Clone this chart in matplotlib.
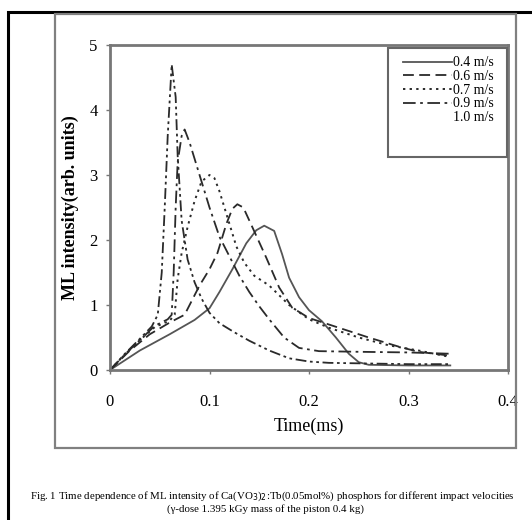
import matplotlib
matplotlib.use("Agg")
import matplotlib.pyplot as plt
from matplotlib.patches import Rectangle
from matplotlib.lines import Line2D

plt.rcParams['font.family'] = ['Liberation Serif', 'DejaVu Serif']

# datos (tiempo en ms, intensidad ML en u.a.)
t_04 = [0, 0.03, 0.06, 0.085, 0.1, 0.11, 0.123, 0.137, 0.147, 0.155, 0.165, 0.173, 0.18, 0.19, 0.2, 0.213, 0.227, 0.24, 0.25, 0.26, 0.3, 0.342]
i_04 = [0, 0.3, 0.55, 0.77, 0.95, 1.2, 1.55, 1.95, 2.15, 2.22, 2.14, 1.78, 1.42, 1.12, 0.92, 0.75, 0.5, 0.25, 0.12, 0.08, 0.07, 0.07]

t_06 = [0, 0.02, 0.04, 0.06, 0.075, 0.09, 0.1, 0.108, 0.117, 0.123, 0.128, 0.134, 0.143, 0.157, 0.17, 0.183, 0.2, 0.23, 0.26, 0.29, 0.31, 0.342]
i_06 = [0, 0.3, 0.55, 0.73, 0.85, 1.3, 1.55, 1.8, 2.25, 2.48, 2.55, 2.5, 2.2, 1.73, 1.27, 0.96, 0.8, 0.65, 0.5, 0.36, 0.28, 0.22]

t_07 = [0, 0.015, 0.03, 0.045, 0.06, 0.065, 0.068, 0.072, 0.078, 0.085, 0.092, 0.1, 0.105, 0.11, 0.115, 0.12, 0.127, 0.135, 0.145, 0.16, 0.18, 0.2, 0.22, 0.25, 0.28, 0.31, 0.342]
i_07 = [0, 0.24, 0.46, 0.66, 0.76, 0.85, 1.4, 1.8, 2.2, 2.6, 2.9, 3.0, 2.95, 2.75, 2.5, 2.25, 1.9, 1.65, 1.45, 1.3, 1.0, 0.78, 0.65, 0.5, 0.38, 0.3, 0.2]

t_09 = [0, 0.015, 0.03, 0.045, 0.058, 0.062, 0.064, 0.066, 0.068, 0.072, 0.075, 0.08, 0.085, 0.092, 0.1, 0.11, 0.12, 0.13, 0.14, 0.15, 0.16, 0.175, 0.19, 0.21, 0.25, 0.3, 0.342]
i_09 = [0, 0.24, 0.46, 0.68, 0.78, 0.85, 1.5, 2.5, 3.2, 3.6, 3.7, 3.5, 3.25, 2.9, 2.5, 2.05, 1.75, 1.45, 1.2, 0.98, 0.78, 0.5, 0.34, 0.29, 0.28, 0.27, 0.25]

t_10 = [0, 0.015, 0.03, 0.042, 0.048, 0.052, 0.055, 0.058, 0.062, 0.066, 0.068, 0.072, 0.078, 0.085, 0.092, 0.1, 0.11, 0.125, 0.14, 0.16, 0.18, 0.2, 0.22, 0.26, 0.3, 0.342]
i_10 = [0, 0.25, 0.48, 0.67, 0.85, 1.5, 2.5, 3.6, 4.7, 4.2, 3.3, 2.3, 1.7, 1.35, 1.1, 0.88, 0.72, 0.58, 0.45, 0.3, 0.18, 0.13, 0.11, 0.1, 0.09, 0.09]

etiquetas = ["0.4 m/s", "0.6 m/s", "0.7 m/s", "0.9 m/s", "1.0 m/s"]
x_ticks = [0, 0.1, 0.2, 0.3, 0.4]
y_ticks = [0, 1, 2, 3, 4, 5]

fig = plt.figure(figsize=(5.32, 5.2), dpi=100)
W, H = 532.0, 520.0

# marco negro exterior y caja gris interior
fig.patches.append(Rectangle((8 / W, -0.1), 1.2, 1 - 12 / H + 0.1, transform=fig.transFigure,
                             fill=False, edgecolor='black', linewidth=2.2))
fig.patches.append(Rectangle((55 / W, 1 - 448 / H), (516 - 55) / W, (448 - 14) / H, transform=fig.transFigure,
                             fill=False, edgecolor='#808080', linewidth=1.6))

ax = fig.add_axes([110 / W, 1 - 370 / H, 398 / W, 325 / H])

col = '#2a2a2a'
l1, = ax.plot(t_04, i_04, color='#555555', linestyle='-', linewidth=1.3)
l2, = ax.plot(t_06, i_06, color=col, linestyle=(0, (6, 3)), linewidth=1.3)
l3, = ax.plot(t_07, i_07, color=col, linestyle=(0, (1.2, 2.2)), linewidth=1.4)
l4, = ax.plot(t_09, i_09, color=col, linestyle=(0, (7, 2.5, 1.5, 2.5)), linewidth=1.3)
l5, = ax.plot(t_10, i_10, color=col, linestyle=(0, (6, 2, 1.5, 2, 1.5, 2)), linewidth=1.3)

ax.set_xlim(0, 0.4)
ax.set_ylim(0, 5)
ax.set_xticks(x_ticks)
ax.set_xticklabels(["0", "0.1", "0.2", "0.3", "0.4"])
ax.set_yticks(y_ticks)
for s in ax.spines.values():
    s.set_color('#777777')
    s.set_linewidth(2)
ax.tick_params(axis='x', direction='out', length=3, width=1, color='#777777', pad=14, labelsize=12)
ax.tick_params(axis='y', direction='out', length=3, width=1, color='#777777', pad=6, labelsize=12)

ax.set_xlabel("Time(ms)", fontsize=13, labelpad=6)
ax.set_ylabel("ML intensity(arb. units)", fontsize=13, fontweight='bold', labelpad=7)

# leyenda con caja alta como en el original
ax.add_patch(Rectangle((0.698, 0.655), 0.3, 0.335, transform=ax.transAxes,
                       fill=False, edgecolor='#666666', linewidth=1.5, zorder=5))
vacio = Line2D([], [], linestyle='none')
ax.legend([l1, l2, l3, l4, vacio], etiquetas, loc='upper left', bbox_to_anchor=(0.736, 0.965),
          frameon=False, fontsize=10, handlelength=3.5, handletextpad=0.1,
          labelspacing=0.05, borderpad=0, borderaxespad=0)

fig.text(30 / W, 1 - 496 / H,
         "Fig. 1 Time dependence of ML intensity of Ca(VO$_3$)$_2$:Tb(0.05mol%) phosphors for different impact velocities",
         fontsize=7.8, ha='left', va='center')
fig.text(265 / W, 1 - 509 / H, "(\u03b3-dose 1.395 kGy mass of the piston 0.4 kg)",
         fontsize=7.8, ha='center', va='center')

fig.savefig("out.png", dpi=100)
